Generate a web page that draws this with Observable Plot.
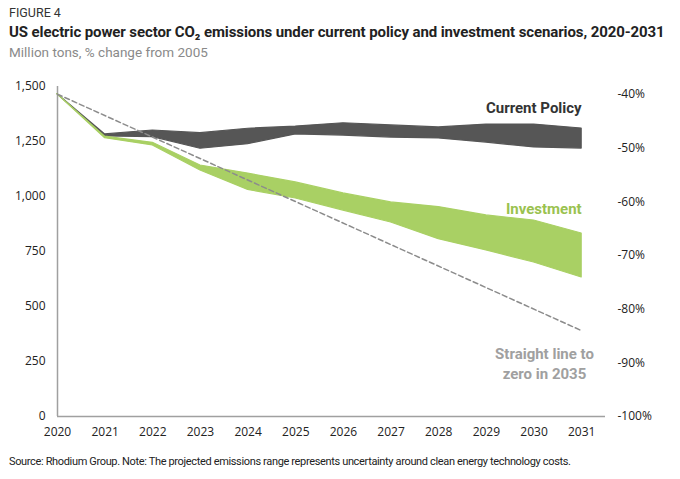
<!DOCTYPE html>
<html>
<head>
<meta charset="utf-8">
<script src="https://cdn.jsdelivr.net/npm/d3@7"></script>
<script src="https://cdn.jsdelivr.net/npm/@observablehq/plot@0.6"></script>
<style>
  body { margin: 0; background: #fff; width: 680px; font-family: "Open Sans", sans-serif; }
  .fig { font-family: Roboto, sans-serif; font-size: 12.5px; line-height: 16px; padding: 5px 0 0 9px; color: #333; }
  .title { font-family: Roboto, sans-serif; font-size: 15px; font-weight: bold; letter-spacing: -0.1px; line-height: 22px; padding-left: 9px; color: #222; white-space: nowrap; }
  .sub { font-family: Roboto, sans-serif; font-size: 13.5px; line-height: 18px; padding-left: 9px; color: #8a8a8a; }
  .cap { font-family: Roboto, sans-serif; font-size: 11px; letter-spacing: -0.35px; line-height: 15px; padding: 7px 0 0 9px; color: #222; white-space: nowrap; }
  svg { display: block; }
</style>
</head>
<body>
<div class="fig">FIGURE 4</div>
<div class="title">US electric power sector CO₂ emissions under current policy and investment scenarios, 2020-2031</div>
<div class="sub">Million tons, % change from 2005</div>
<div id="chart"></div>
<div class="cap">Source: Rhodium Group. Note: The projected emissions range represents uncertainty around clean energy technology costs.</div>
<script>
const years   = [2020, 2021, 2022, 2023, 2024, 2025, 2026, 2027, 2028, 2029, 2030, 2031];
const cpLow   = [1465, 1273, 1270, 1217, 1238, 1282, 1277, 1268, 1264, 1245, 1223, 1218];
const cpHigh  = [1465, 1282, 1300, 1288, 1308, 1318, 1333, 1323, 1314, 1327, 1327, 1309];
const invLow  = [1465, 1265, 1232, 1118, 1030,  991,  936,  882,  806,  755,  700,  632];
const invHigh = [1465, 1272, 1244, 1141, 1104, 1064, 1014,  973,  952,  914,  891,  832];
const lineYears  = [2020, 2031];
const lineValues = [1465, 390];
const leftTicks  = [0, 250, 500, 750, 1000, 1250, 1500];
const pctTicks   = [-40, -50, -60, -70, -80, -90, -100];
const base2005   = 2440;

const cp  = years.map((x, i) => ({x, lo: cpLow[i],  hi: cpHigh[i]}));
const inv = years.map((x, i) => ({x, lo: invLow[i], hi: invHigh[i]}));
const straight = lineYears.map((x, i) => ({x, y: lineValues[i]}));

const gray = "#565656", green = "#a9d064";

const chart = Plot.plot({
  width: 680,
  height: 386,
  marginTop: 25,
  marginBottom: 31,
  marginLeft: 57,
  marginRight: 75,
  style: {fontFamily: "'Open Sans', sans-serif", fontSize: "12px", color: "#222"},
  x: {domain: [2020, 2031.5]},
  y: {domain: [0, 1500]},
  marks: [
    Plot.axisY({ticks: leftTicks, tickFormat: d3.format(","), tickSize: 0, tickPadding: 12, label: null, fontSize: 12}),
    Plot.axisY({anchor: "right", ticks: pctTicks.map(p => base2005 * (1 + p / 100)),
      tickFormat: d => Math.round((d / base2005 - 1) * 100) + "%", tickSize: 0, tickPadding: 12, label: null, textAnchor: "start", fontSize: 12}),
    Plot.axisX({ticks: years, tickFormat: d => String(d), tickSize: 0, tickPadding: 11, label: null, fontSize: 12}),
    Plot.ruleX([2020], {y1: 0, y2: 1500, stroke: "#a0a0a0", strokeWidth: 1.5}),
    Plot.ruleY([0], {stroke: "#a0a0a0", strokeWidth: 1.5}),
    Plot.areaY(cp, {x: "x", y1: "lo", y2: "hi", fill: gray, stroke: gray, strokeWidth: 1.2}),
    Plot.areaY(inv, {x: "x", y1: "lo", y2: "hi", fill: green, stroke: green, strokeWidth: 1.2}),
    Plot.line(straight, {x: "x", y: "y", stroke: "#8c8c8c", strokeWidth: 1.5, strokeDasharray: "5,3"}),
    Plot.text([{x: 2031, y: 1400}], {x: "x", y: "y", text: () => "Current Policy", textAnchor: "end", fontWeight: "bold", fontSize: 15, fill: "#333", fontFamily: "Roboto, sans-serif"}),
    Plot.text([{x: 2031, y: 941}], {x: "x", y: "y", text: () => "Investment", textAnchor: "end", fontWeight: "bold", fontSize: 15, fill: "#9ac24f", fontFamily: "Roboto, sans-serif"}),
    Plot.text([{x: 2030.22, y: 245}], {x: "x", y: "y", text: () => "Straight line to\nzero in 2035", textAnchor: "middle", lineHeight: 1.3, fontWeight: "bold", fontSize: 15, fill: "#a0a0a0", fontFamily: "Roboto, sans-serif"})
  ]
});
document.getElementById("chart").appendChild(chart);
</script>
</body>
</html>
